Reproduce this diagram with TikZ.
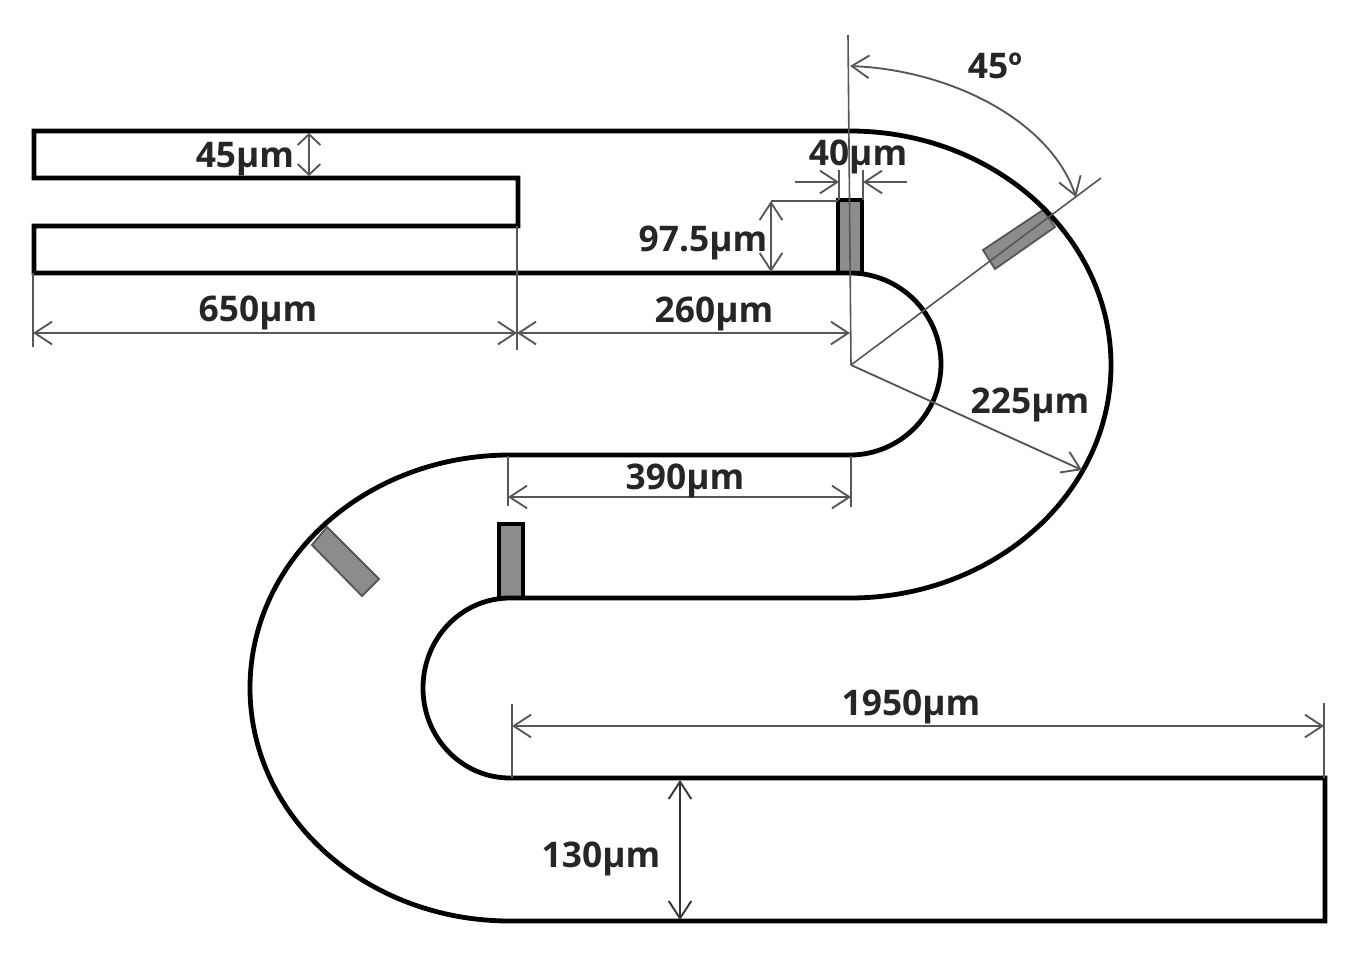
\documentclass[tikz,border=0pt]{standalone}
\usepackage{fontspec}
\setmainfont{Open Sans}
\usetikzlibrary{arrows.meta}
\definecolor{dimgray}{gray}{0.34}
\definecolor{barfill}{gray}{0.55}
\tikzset{
  wall/.style={draw=black,line width=3.6pt,line join=miter},
  dimline/.style={draw=dimgray,line width=1.4pt},
  extline/.style={draw=dimgray,line width=1.2pt},
  dimarrow/.style={dimline,{Straight Barb[length=13pt,width=17pt,line width=1.4pt]}-{Straight Barb[length=13pt,width=17pt,line width=1.4pt]}},
  endarrow/.style={dimline,-{Straight Barb[length=13pt,width=17pt,line width=1.4pt]}},
  smallarrow/.style={dimline,{Straight Barb[length=8pt,width=17pt,line width=1.4pt]}-{Straight Barb[length=8pt,width=17pt,line width=1.4pt]}},
  dimtext/.style={font=\fontsize{26.5pt}{28pt}\selectfont\bfseries,text=black!85,inner sep=0pt},
  barblack/.style={draw=black,line width=2.6pt,fill=barfill},
  bargray/.style={draw=dimgray,line width=1.4pt,fill=barfill},
}
\begin{document}
\begin{tikzpicture}[x=0.75pt,y=-0.75pt]
\useasboundingbox[fill=white] (0,0) rectangle (1361,961);
% key points
\coordinate (c) at (851,365);
% bars
\path[barblack] (838,200) rectangle (862,273);
\path[barblack] (499,524) rectangle (523,598);
\path[bargray] (983,250) -- (995,269) -- (1055,227) -- (1043,210) -- cycle;
\path[bargray] (327,527) -- (312,545) -- (362,596) -- (379,579) -- cycle;
% channel walls
\path[wall] (518,178) -- (34,178) -- (34,131) -- (850,131)
  .. controls (994,131) and (1111,236) .. (1111,365)
  .. controls (1111,494) and (994,598) .. (850,598) -- (510,598)
  .. controls (462,598) and (423,638) .. (423,688)
  .. controls (423,738) and (462,778) .. (510,778) -- (1325,778)
  -- (1325,921) -- (510,921)
  .. controls (366,921) and (250,817) .. (250,688)
  .. controls (250,559) and (366,455) .. (510,455) -- (850,455)
  .. controls (900,455) and (941,414) .. (941,364)
  .. controls (941,314) and (900,273) .. (850,273) -- (34,273) -- (34,226) -- (518,226) -- cycle;
% centre lines
\coordinate (vtop) at (848,35);
\coordinate (rtip) at (1101,178);
\coordinate (rim) at (1082,470);
\draw[extline] (vtop) -- (c);
\draw[extline] (c) -- (rtip);
\draw[endarrow] (c) -- (rim);
% 45 degree arc
\coordinate (a1) at (850,66);
\coordinate (a2) at (1076,197);
\draw[dimarrow] (a1) .. controls (950,70) and (1050,120) .. (a2);
% horizontal dimensions
\draw[extline] (33,273) -- (33,347);
\draw[extline] (517,226) -- (517,350);
\coordinate (d1) at (33,333);
\coordinate (d2) at (517,333);
\coordinate (d3) at (850,333);
\draw[dimarrow] (d1) -- (d2);
\draw[dimarrow] (d2) -- (d3);
% 390
\draw[extline] (508,456) -- (508,506);
\draw[extline] (851,456) -- (851,507);
\draw[dimarrow] (508,497) -- (851,497);
% 1950
\draw[extline] (512,778) -- (512,704);
\draw[extline] (1324,778) -- (1324,703);
\draw[dimarrow] (512,726) -- (1324,726);
% 130
\draw[dimarrow,draw=black!80] (680,780) -- (680,920);
% 45 um
\draw[smallarrow] (309,133) -- (309,176);
% 97.5
\draw[extline] (771,201) -- (838,201);
\draw[dimarrow] (771,201) -- (771,272);
% 40
\draw[extline] (839,200) -- (839,170);
\draw[extline] (863,200) -- (863,170);
\draw[endarrow] (795,182) -- (839,182);
\draw[endarrow] (907,182) -- (863,182);
% labels
\node[dimtext] (t45) at (995,66) {45º};
\node[dimtext] (w45) at (245,159) {45µm};
\node[dimtext] (w40) at (858,157) {40µm};
\node[dimtext] (h97) at (703,243) {97.5µm};
\node[dimtext] (l650) at (258,313) {650µm};
\node[dimtext] (l260) at (714,314) {260µm};
\node[dimtext] (r225) at (1030,405) {225µm};
\node[dimtext] (l390) at (685,481) {390µm};
\node[dimtext] (l1950) at (911,707) {1950µm};
\node[dimtext] (h130) at (601,859) {130µm};
\end{tikzpicture}
\end{document}
